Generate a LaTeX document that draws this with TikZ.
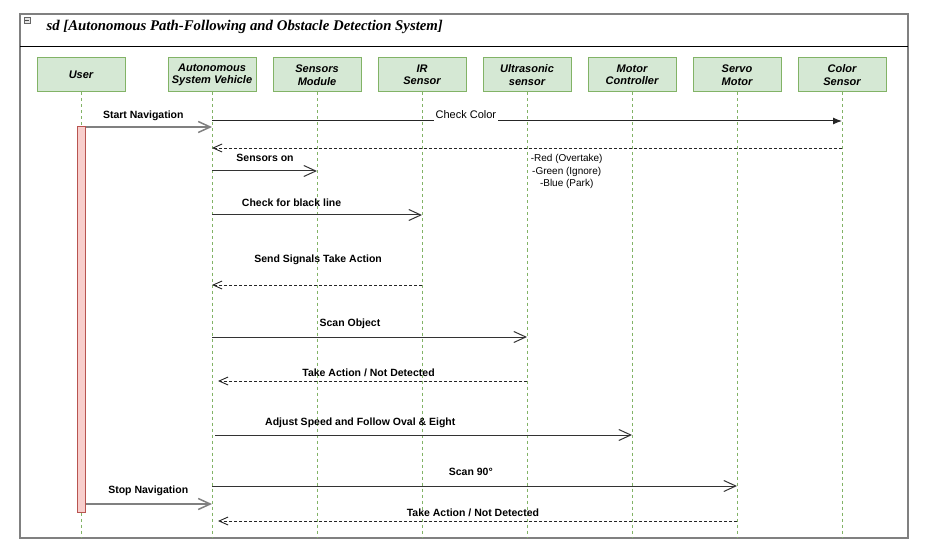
\documentclass[tikz,border=0pt]{standalone}
\usepackage{fontspec}
\setmainfont{Liberation Sans}
\newfontfamily\titlefont{Liberation Serif}
\usetikzlibrary{arrows.meta,positioning}
\definecolor{headfill}{HTML}{D5E8D4}
\definecolor{headline}{HTML}{82B366}
\definecolor{actfill}{HTML}{F8CECC}
\definecolor{actline}{HTML}{B85450}

\begin{document}
\begin{tikzpicture}[x=1pt,y=-1pt,node distance=105pt,on grid,
    head/.style={draw=headline,fill=headfill,line width=1pt,minimum width=88pt,minimum height=34pt,
      align=center,font=\fontsize{11}{12.5}\selectfont\bfseries\itshape},
    lifeline/.style={draw=headline,dash pattern=on 3pt off 3pt,line width=0.8pt},
    actbar/.style={draw=actline,fill=actfill,line width=1pt,minimum width=8pt,minimum height=385pt,inner sep=0pt},
    msg/.style={draw=black!80,line width=1pt,-{Straight Barb[length=12pt,width=11pt]}},
    ret/.style={draw=black!85,line width=0.9pt,dash pattern=on 3pt off 2pt,-{Straight Barb[length=9pt,width=8pt]}},
    lbl/.style={font=\fontsize{10.5}{12}\selectfont\bfseries,inner sep=1pt}]
  \useasboundingbox (0,0) rectangle (929,556);
  % frame
  \draw[draw=black!50,line width=2pt] (20,14) rectangle (908,538);
  \draw[line width=1pt] (20,47) -- (908,47);
  \node[draw=black!60,fill=black!10,minimum size=6pt,inner sep=0pt] (fold) at (27,20) {};
  \draw[black!70] ([xshift=1.2pt]fold.west) -- ([xshift=-1.2pt]fold.east);
  \node[anchor=west,font=\titlefont\fontsize{14.8}{17}\selectfont\bfseries\itshape] (title) at (43,26.5)
    {sd [Autonomous Path-Following and Obstacle Detection System]};

  % lifeline heads
  \node[head] (user) at (81,75) {User};
  \node[head] (asv) [right=of user,xshift=26pt] {Autonomous\\System Vehicle};
  \node[head] (sen) [right=of asv] {Sensors\\Module};
  \node[head] (ir) [right=of sen] {IR\\Sensor};
  \node[head] (us) [right=of ir] {Ultrasonic\\sensor};
  \node[head] (mc) [right=of us] {Motor\\Controller};
  \node[head] (sm) [right=of mc] {Servo\\Motor};
  \node[head] (cs) [right=of sm] {Color\\Sensor};

  \coordinate (bottom) at (0,537);
  \foreach \n in {user,asv,sen,ir,us,mc,sm,cs}
    \draw[lifeline] (\n.south) -- (\n |- bottom);

  \node[actbar] (act) at (81,319.5) {};

  % message rows
  \foreach \n/\y in {1/127,2/121,3/148,4/171,5/215,6/285,7/337,8/381,9/435,10/486,11/504,12/521}
    \coordinate (r\n) at (0,\y);

  \draw[msg,draw=black!50,line width=1.5pt] (act.east |- r1) -- node[lbl,pos=.457,yshift=11.5pt] {Start Navigation} (asv |- r1);
  \draw[draw=black!85,line width=1pt,-{Latex[length=9pt,width=7pt]}] (asv |- r2) -- node[pos=.403,yshift=6pt,fill=white,inner sep=1.5pt,font=\fontsize{11}{12}\selectfont] {Check Color} (cs |- r2);
  \draw[ret] (cs |- r3) -- node[pos=.437,yshift=-23.5pt,align=center,font=\fontsize{10}{12.7}\selectfont] {-Red (Overtake)\\-Green (Ignore)\\-Blue (Park)} (asv |- r3);
  \draw[msg] (asv |- r4) -- node[lbl,pos=.505,yshift=13pt] {Sensors on} (sen |- r4);
  \draw[msg] (asv |- r5) -- node[lbl,pos=.379,yshift=12pt] {Check for black line} (ir |- r5);
  \draw[ret] (ir |- r6) -- node[lbl,pos=.495,yshift=25.5pt] {Send Signals Take Action} (asv |- r6);
  \draw[msg] (asv |- r7) -- node[lbl,pos=.438,yshift=13.5pt] {Scan Object} (us |- r7);
  \draw[ret,shorten >=6pt] (us |- r8) -- node[lbl,pos=.503,yshift=8pt] {Take Action / Not Detected} (asv |- r8);
  \draw[msg,shorten <=3pt] (asv |- r9) -- node[lbl,pos=.353,yshift=12.5pt] {Adjust Speed and Follow Oval \& Eight} (mc |- r9);
  \draw[msg] (asv |- r10) -- node[lbl,pos=.493,yshift=14pt] {Scan 90°} (sm |- r10);
  \draw[msg,draw=black!50,line width=1.5pt] (act.east |- r11) -- node[lbl,pos=.496,yshift=13.5pt] {Stop Navigation} (asv |- r11);
  \draw[ret,shorten >=6pt] (sm |- r12) -- node[lbl,pos=.503,yshift=8pt] {Take Action / Not Detected} (asv |- r12);
\end{tikzpicture}
\end{document}
